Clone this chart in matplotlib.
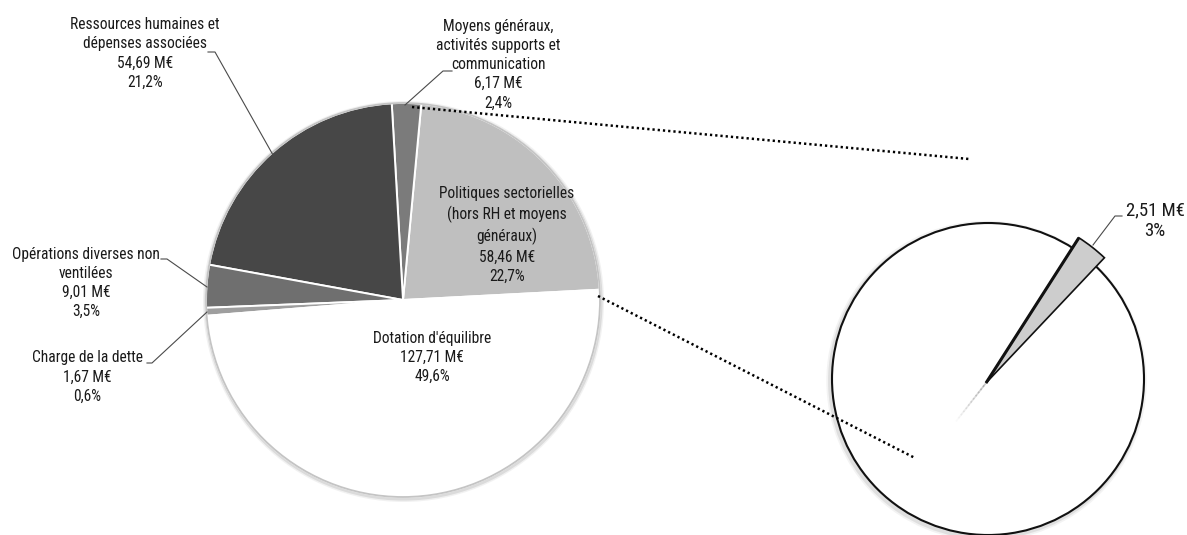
import numpy as np
import matplotlib
matplotlib.use("Agg")
import matplotlib.pyplot as plt
from matplotlib import font_manager
from matplotlib.patches import Circle

# ---- data -------------------------------------------------------------
categories = [
    "Politiques sectorielles\n(hors RH et moyens\ngénéraux)",
    "Moyens généraux,\nactivités supports et\ncommunication",
    "Ressources humaines et\ndépenses associées",
    "Opérations diverses non\nventilées",
    "Charge de la dette",
    "Dotation d'équilibre",
]
amounts_meur = [58.46, 6.17, 54.69, 9.01, 1.67, 127.71]
shares_pct = [22.7, 2.4, 21.2, 3.5, 0.6, 49.6]

detail_amount_meur = 2.51
detail_shares_pct = [3, 97]

slice_colors = ["#bfbfbf", "#7b7b7b", "#474747", "#6f6f6f", "#9e9e9e", "#ffffff"]

# ---- fonts ------------------------------------------------------------
names = {f.name for f in font_manager.fontManager.ttflist}
family = next((n for n in ["Liberation Sans Narrow", "Arial Narrow", "Roboto Condensed",
                           "Liberation Sans"] if n in names), "DejaVu Sans")
plt.rcParams["font.family"] = [family, "DejaVu Sans"]

W, H = 1187, 535
fig = plt.figure(figsize=(W / 100, H / 100), dpi=100)
ax = fig.add_axes([0, 0, 1, 1])


def fmt(v, d):
    return f"{v:.{d}f}".replace(".", ",")


def label(i):
    return f"{categories[i]}\n{fmt(amounts_meur[i], 2)} M€\n{fmt(shares_pct[i], 1)}%"


def py(y):
    # pixel row (top origin) -> data y
    return H - y


TXT = "#1a1a1a"
FS = 11.2
LS = 1.35

# ---- main pie ---------------------------------------------------------
c_main = (403, py(300))
r_main = 197
for lw, a in [(5, 0.10), (3, 0.18)]:
    ax.add_patch(Circle((c_main[0] + 0.5, c_main[1] - 1.5), r_main, fill=False,
                        ec="#7a7a7a", lw=lw, alpha=a, zorder=1))
wedges, _ = ax.pie(amounts_meur, colors=slice_colors, startangle=3,
                   counterclock=True, center=c_main, radius=r_main, frame=True,
                   wedgeprops=dict(edgecolor="white", linewidth=1.4))
for w in wedges:
    w.set_zorder(2)
ax.add_patch(Circle(c_main, r_main, fill=False, ec="#c4c4c4", lw=1.3, zorder=3))

# ---- detail pie -------------------------------------------------------
c_det = (988, py(379))
r_det = 156
for lw, a in [(6, 0.07), (3.5, 0.12)]:
    ax.add_patch(Circle((c_det[0] - 1.5, c_det[1] - 2), r_det, fill=False,
                        ec="#555555", lw=lw, alpha=a, zorder=1))
dw, _ = ax.pie(detail_shares_pct, colors=["#cdcdcd", "white"], startangle=46.6,
               counterclock=True, center=c_det, radius=r_det, frame=True,
               wedgeprops=dict(linewidth=0))
ax.add_patch(Circle(c_det, r_det, fill=False, ec="#111111", lw=1.5, zorder=3))
small = dw[0]
tip = (c_det[0] - 2, c_det[1] - 4)
small.set_center(tip)
small.set_radius(r_det * 1.105)
small.set_edgecolor("#111111")
small.set_linewidth(1.2)
small.set_zorder(4)
dw[1].set_zorder(2)

# darker shaded left flank and faint trailing shadow of the detached slice
t2 = np.radians(small.theta2)
rr = small.r
ax.plot([tip[0], tip[0] + rr * np.cos(t2)], [tip[1], tip[1] + rr * np.sin(t2)],
        color="#111111", lw=2.2, solid_capstyle="butt", zorder=5)
tm = np.radians((small.theta1 + small.theta2) / 2)
for k in range(12):
    s0, s1 = k * 4, (k + 1) * 4
    ax.plot([tip[0] - s0 * np.cos(tm), tip[0] - s1 * np.cos(tm)],
            [tip[1] - s0 * np.sin(tm), tip[1] - s1 * np.sin(tm)],
            color="#888888", lw=1.2, alpha=0.45 * (1 - k / 12), zorder=4)

# ---- connectors between the pies -----------------------------------
dot = dict(color="black", lw=1.8, linestyle=(0, (0.9, 1.2)), zorder=5)
ax.plot([412, 969], [py(107), py(159)], **dot)
ax.plot([598, 915], [py(296), py(458)], **dot)

# ---- labels -----------------------------------------------------------
tk = dict(ha="center", va="center", fontsize=FS, color=TXT, linespacing=LS, zorder=6)
ax.text(145, py(53.5), label(2), **tk)
ax.text(498, py(64.5), label(1), **tk)
ax.text(507, py(235), label(0), **tk)
ax.text(86, py(283), label(3), **tk)
ax.text(87, py(377), label(4), **tk)
ax.text(432, py(357.5), label(5), **tk)
ax.text(1155, py(221), f"{fmt(detail_amount_meur, 2)} M€\n{detail_shares_pct[0]}%",
        **{**tk, "fontsize": 13.5, "linespacing": 1.17})

lead = dict(color="#4a4a4a", lw=0.8, zorder=5)
for pts in [
    [(208, 52), (215, 52), (273, 155)],
    [(452, 71), (443, 71), (405, 105)],
    [(161, 259), (167, 259), (207, 287)],
    [(147, 363), (152, 363), (207, 312)],
    [(1122, 216), (1115, 216), (1093, 245)],
]:
    ax.plot([p[0] for p in pts], [py(p[1]) for p in pts], **lead)

ax.set_xlim(0, W)
ax.set_ylim(0, H)
ax.set_aspect("auto")
ax.axis("off")
fig.savefig("out.png", dpi=100, facecolor="white")
